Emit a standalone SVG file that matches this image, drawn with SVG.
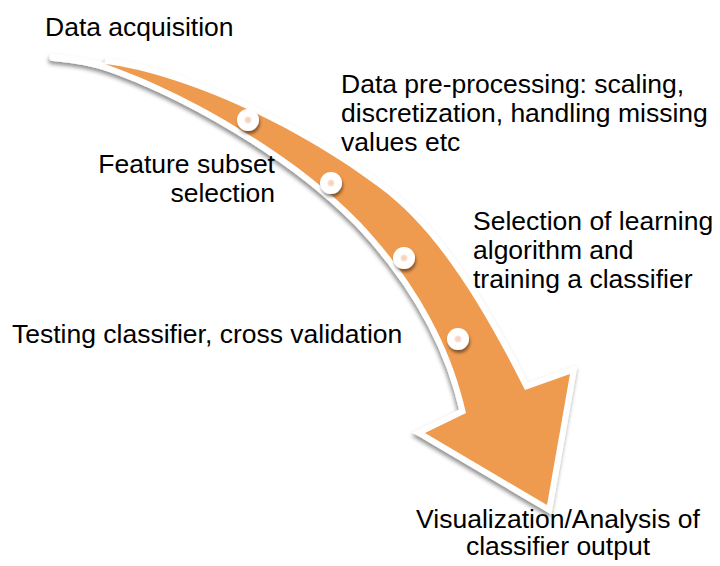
<svg xmlns="http://www.w3.org/2000/svg" width="720" height="566" viewBox="0 0 720 566">
  <defs>
    <style>
      .lbl { font-family: "Liberation Sans", Arial, sans-serif; font-size: 26.5px; fill: #000; }
      .rim { fill: #fff; stroke: #fff; stroke-width: 12; stroke-linejoin: miter; stroke-miterlimit: 4; }
      .tail { fill: none; stroke: #fff; stroke-width: 7; stroke-linecap: round; }
      .body { fill: #EE9A4F; }
      .dot { fill: #fff; }
      .pip { fill: url(#pipFill); }
    </style>
    <filter id="arrowShadow" x="-10%" y="-10%" width="120%" height="120%">
      <feGaussianBlur in="SourceAlpha" stdDeviation="2.2"/>
      <feOffset dx="-1" dy="3" result="blur"/>
      <feFlood flood-color="#000" flood-opacity="0.45"/>
      <feComposite in2="blur" operator="in"/>
      <feMerge>
        <feMergeNode/>
        <feMergeNode in="SourceGraphic"/>
      </feMerge>
    </filter>
    <filter id="dotShadow" x="-50%" y="-50%" width="200%" height="200%">
      <feGaussianBlur in="SourceAlpha" stdDeviation="1.6"/>
      <feOffset dx="1" dy="2.5" result="blur"/>
      <feFlood flood-color="#000" flood-opacity="0.45"/>
      <feComposite in2="blur" operator="in"/>
      <feMerge>
        <feMergeNode/>
        <feMergeNode in="SourceGraphic"/>
      </feMerge>
    </filter>
    <radialGradient id="pipFill">
      <stop offset="0" stop-color="#F7C9B4"/>
      <stop offset="1" stop-color="#FBE3D8"/>
    </radialGradient>
    <path id="arrowShape" d="M105,64 C175,72 290,120 380,188 C430,225 475,290 525,390 L570,374 L547,505 L425,433 L466,413 C450,340 410,275 360,222 C290,150 180,90 105,64 Z"/>
  </defs>

  <!-- curved process arrow with white rim and soft shadow -->
  <g id="arrow">
    <g filter="url(#arrowShadow)">
      <use href="#arrowShape" class="rim"/>
      <path class="tail" d="M53,57.5 C72,59 92,62 112,69"/>
    </g>
    <use href="#arrowShape" class="body"/>
  </g>

  <!-- step markers along the arrow -->
  <g id="markers" filter="url(#dotShadow)">
    <g id="marker1"><circle class="dot" cx="248" cy="120" r="11"/><circle class="pip" cx="248" cy="120" r="3.5"/></g>
    <g id="marker2"><circle class="dot" cx="331" cy="183" r="11"/><circle class="pip" cx="331" cy="183" r="3.5"/></g>
    <g id="marker3"><circle class="dot" cx="404" cy="258" r="11"/><circle class="pip" cx="404" cy="258" r="3.5"/></g>
    <g id="marker4"><circle class="dot" cx="458" cy="339" r="11"/><circle class="pip" cx="458" cy="339" r="3.5"/></g>
  </g>

  <g id="step-acquisition">
    <text class="lbl" x="45" y="36">Data acquisition</text>
  </g>
  <g id="step-preprocessing">
    <text class="lbl" x="341" y="93">Data pre-processing: scaling,</text>
    <text class="lbl" x="341" y="122">discretization, handling missing</text>
    <text class="lbl" x="341" y="151">values etc</text>
  </g>
  <g id="step-features">
    <text class="lbl" x="275" y="173" text-anchor="end">Feature subset</text>
    <text class="lbl" x="275" y="202" text-anchor="end">selection</text>
  </g>
  <g id="step-training">
    <text class="lbl" x="473" y="230">Selection of learning</text>
    <text class="lbl" x="473" y="259">algorithm and</text>
    <text class="lbl" x="473" y="288">training a classifier</text>
  </g>
  <g id="step-testing">
    <text class="lbl" x="12" y="343">Testing classifier, cross validation</text>
  </g>
  <g id="step-output">
    <text class="lbl" x="558" y="528" text-anchor="middle">Visualization/Analysis of</text>
    <text class="lbl" x="558" y="555" text-anchor="middle">classifier output</text>
  </g>
</svg>
